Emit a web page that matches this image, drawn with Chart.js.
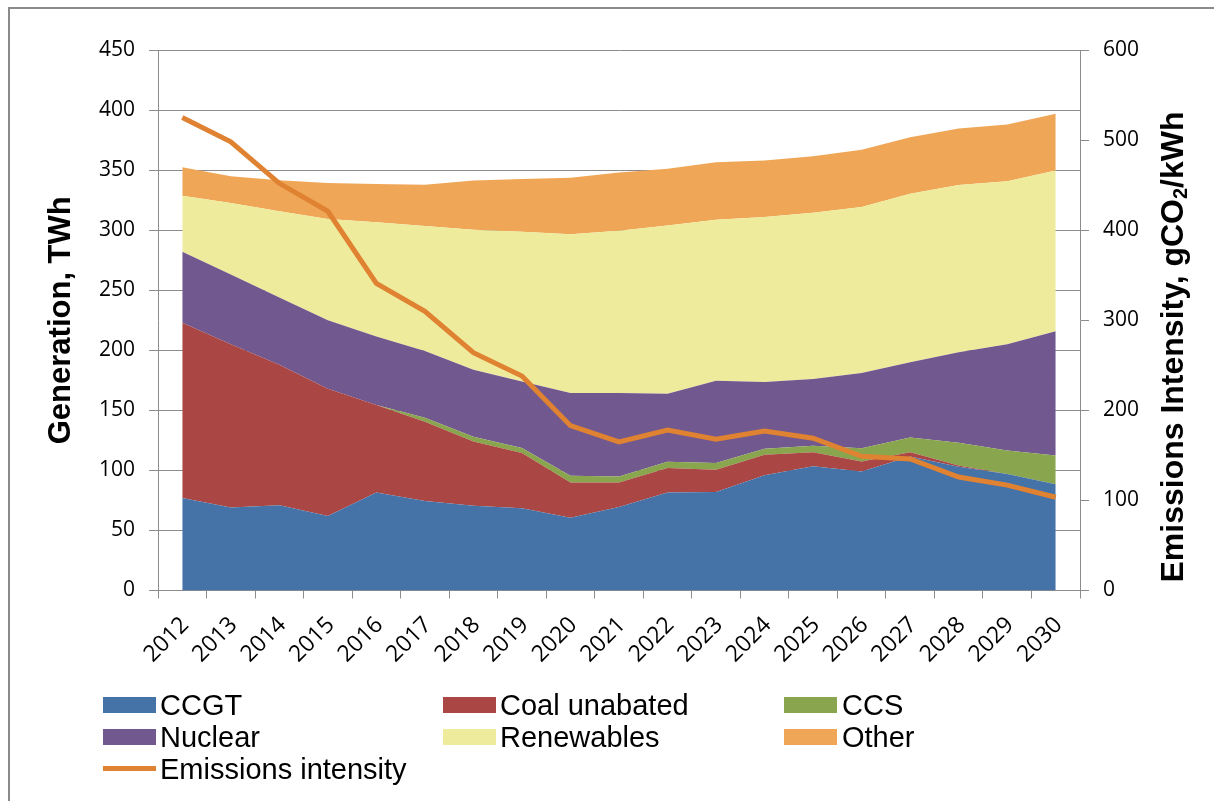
<!DOCTYPE html>
<html>
<head>
<meta charset="utf-8">
<script src="https://cdn.jsdelivr.net/npm/chart.js@4/dist/chart.umd.min.js"></script>
<style>
  html, body { margin: 0; padding: 0; background: #fff; }
  #wrap { position: relative; width: 1214px; height: 801px; overflow: hidden; }
  #frame { position: absolute; left: 8px; top: 7px; width: 1300px; height: 900px;
           border-left: 2px solid #8a8a8a; border-top: 2px solid #8a8a8a; }
  canvas { position: absolute; left: 0; top: 0; }
  .lg { position: absolute; font: 29px "Liberation Sans", Arial, sans-serif; color: #000;
        line-height: 32px; white-space: nowrap; }
  .lg i { position: absolute; left: 0; top: 8px; width: 53px; height: 16px; }
  .lg i.ln { top: 13px; height: 5px; }
  .lg span { position: absolute; top: 0; }
</style>
</head>
<body>
<div id="wrap">
  <div id="frame"></div>
  <canvas id="chart" width="1214" height="801"></canvas>
  <div id="legend"></div>
</div>
<script>
// Generation mix (TWh) and grid emissions intensity, 2012-2030
const years = ['2012', '2013', '2014', '2015', '2016', '2017', '2018', '2019', '2020', '2021',
               '2022', '2023', '2024', '2025', '2026', '2027', '2028', '2029', '2030'];

const ccgt       = [77, 69, 71, 62, 81.5, 74.5, 70.5, 68.5, 60.5, 69.5, 81.5, 82, 96, 103.5, 99, 111.5, 103, 97, 88.5];
const coal       = [146, 136, 117, 106, 73, 66, 53.5, 46, 29.5, 20.5, 20.5, 18.5, 17, 11.5, 8.5, 3.5, 1, 0, 0];
const ccs        = [0, 0, 0, 0, 0, 3.3, 4, 4.2, 5.5, 5, 5.2, 5.6, 5, 5.5, 11, 12.3, 19, 19.5, 24];
const nuclear    = [59, 58, 56, 57, 57, 55.6, 55.7, 55.3, 69, 69.4, 56.7, 68.6, 55.5, 55.6, 62.5, 62.7, 75.4, 88.5, 103.4];
const renewables = [46.7, 59.6, 71.7, 84.3, 95, 104, 116.7, 124.7, 132.2, 135.2, 140, 134, 137.5, 138.3, 138.3, 140.4, 139.3, 135.7, 133.8];
const other      = [23.7, 22.3, 25.8, 30, 32, 34.5, 41, 44, 47, 48.5, 47.3, 47.8, 46.9, 47.2, 47.7, 47, 47, 47.2, 47.2];
const intensity  = [525, 498, 452, 421, 341, 310, 264, 238, 183, 165, 178, 168, 177, 169, 149, 146, 126, 117, 103.5];

const genTicks = [0, 50, 100, 150, 200, 250, 300, 350, 400, 450];
const intTicks = [0, 100, 200, 300, 400, 500, 600];

const areas = [
  { label: 'CCGT',          data: ccgt,       color: '#4572A7' },
  { label: 'Coal unabated', data: coal,       color: '#AA4643' },
  { label: 'CCS',           data: ccs,        color: '#89A54E' },
  { label: 'Nuclear',       data: nuclear,    color: '#71588F' },
  { label: 'Renewables',    data: renewables, color: '#EEEC9C' },
  { label: 'Other',         data: other,      color: '#EFA757' }
];
const lineColor = '#DF8232';
const gridColor = '#8c8c8c';

const datasets = areas.map((a, i) => ({
  type: 'line',
  label: a.label,
  data: a.data,
  yAxisID: 'y',
  backgroundColor: a.color,
  borderColor: a.color,
  borderWidth: 0,
  pointRadius: 0,
  tension: 0,
  fill: i === 0 ? 'origin' : '-1',
  order: 2
}));
datasets.push({
  type: 'line',
  label: 'Emissions intensity',
  data: intensity,
  yAxisID: 'y1',
  borderColor: lineColor,
  backgroundColor: lineColor,
  borderWidth: 5,
  pointRadius: 0,
  tension: 0,
  fill: false,
  order: 1
});

// right axis title reads bottom-to-top with a subscript 2, so draw it by hand
const rightTitle = {
  id: 'rightTitle',
  afterDraw(chart) {
    const ctx = chart.ctx;
    const big = 'bold 32px "Liberation Sans", Arial, sans-serif';
    const small = 'bold 20px "Liberation Sans", Arial, sans-serif';
    const parts = [['Emissions Intensity, gCO', big, 0], ['2', small, 7], ['/kWh', big, 0]];
    let total = 0;
    parts.forEach(p => { ctx.font = p[1]; total += ctx.measureText(p[0]).width; });
    ctx.save();
    ctx.translate(1174, 347);
    ctx.rotate(-Math.PI / 2);
    ctx.fillStyle = '#000';
    ctx.textBaseline = 'middle';
    ctx.textAlign = 'left';
    let x = -total / 2;
    parts.forEach(p => {
      ctx.font = p[1];
      ctx.fillText(p[0], x, p[2]);
      x += ctx.measureText(p[0]).width;
    });
    ctx.restore();
  }
};

const tickFont = { family: '"Open Sans", sans-serif', size: 21 };

new Chart(document.getElementById('chart'), {
  data: { labels: years, datasets },
  options: {
    responsive: false,
    animation: false,
    devicePixelRatio: 1,
    layout: { padding: { top: 50, left: 0, right: 0, bottom: 0 } },
    plugins: {
      legend: { display: false },
      tooltip: { enabled: false },
      filler: { propagate: false }
    },
    scales: {
      x: {
        type: 'category',
        offset: true,
        grid: { drawOnChartArea: false, offset: true, color: gridColor, tickLength: 8 },
        border: { display: true, color: gridColor },
        ticks: {
          autoSkip: false, maxRotation: 45, minRotation: 45,
          font: { family: '"Open Sans", sans-serif', size: 23 },
          color: '#000', padding: 13, labelOffset: 3
        },
        afterFit: s => { s.height = 801 - 590.5; }
      },
      y: {
        stacked: true,
        position: 'left',
        min: 0,
        max: 450,
        afterBuildTicks: s => { s.ticks = genTicks.map(v => ({ value: v })); },
        grid: { color: gridColor, tickLength: 9 },
        border: { display: true, color: gridColor },
        ticks: { font: tickFont, color: '#000', padding: 14 },
        title: {
          display: true,
          text: 'Generation, TWh',
          color: '#000',
          font: { family: '"Liberation Sans", Arial, sans-serif', size: 31, weight: 'bold' },
          padding: { top: 43, bottom: 0 }
        },
        afterFit: s => { s.width = 158; }
      },
      y1: {
        position: 'right',
        min: 0,
        max: 600,
        afterBuildTicks: s => { s.ticks = intTicks.map(v => ({ value: v })); },
        grid: { drawOnChartArea: false, color: gridColor, tickLength: 9 },
        border: { display: true, color: gridColor },
        ticks: { font: tickFont, color: '#000', padding: 14 },
        afterFit: s => { s.width = 1214 - 1080; }
      }
    }
  },
  plugins: [rightTitle]
});

// legend laid out in three columns like the original
const legendItems = [
  { label: 'CCGT',                color: areas[0].color, x: 103, y: 689 },
  { label: 'Coal unabated',       color: areas[1].color, x: 443, y: 689 },
  { label: 'CCS',                 color: areas[2].color, x: 784, y: 689 },
  { label: 'Nuclear',             color: areas[3].color, x: 103, y: 721 },
  { label: 'Renewables',          color: areas[4].color, x: 443, y: 721 },
  { label: 'Other',               color: areas[5].color, x: 784, y: 721 },
  { label: 'Emissions intensity', color: lineColor,      x: 103, y: 753, line: true }
];
const lg = document.getElementById('legend');
legendItems.forEach(it => {
  const d = document.createElement('div');
  d.className = 'lg';
  d.style.left = it.x + 'px';
  d.style.top = it.y + 'px';
  const sw = document.createElement('i');
  if (it.line) sw.className = 'ln';
  sw.style.background = it.color;
  const t = document.createElement('span');
  t.style.left = (it.x === 784 ? 58 : 57) + 'px';
  t.textContent = it.label;
  d.appendChild(sw);
  d.appendChild(t);
  lg.appendChild(d);
});
</script>
</body>
</html>
